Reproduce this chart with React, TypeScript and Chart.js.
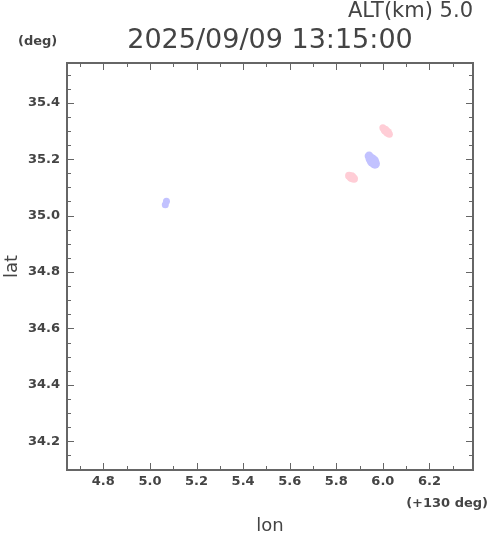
import React, { useEffect, useRef } from "react";
import { Chart, registerables } from "chart.js";

Chart.register(...registerables);

const titleText = "2025/09/09 13:15:00";
const altText = "ALT(km) 5.0";
const unitText = "(deg)";
const lonOffsetText = "(+130 deg)";
const xLabel = "lon";
const yLabel = "lat";

const xRange = [4.644, 6.387];
const yRange = [34.098, 35.541];
const xTicks = [4.8, 5.0, 5.2, 5.4, 5.6, 5.8, 6.0, 6.2];
const yTicks = [34.2, 34.4, 34.6, 34.8, 35.0, 35.2, 35.4];
const xMinorStep = 0.1;
const yMinorStep = 0.05;

// echo patches (lon offset, lat)
const bluePoints = [
  { x: 5.941, y: 35.211 },
  { x: 5.950, y: 35.200 },
  { x: 5.958, y: 35.193 },
  { x: 5.966, y: 35.184 },
  { x: 5.071, y: 35.051 },
  { x: 5.066, y: 35.038 },
];
const blueRadius = [4.5, 5.5, 6, 5, 3.5, 3.5];

const redPoints = [
  { x: 6.000, y: 35.311 },
  { x: 6.010, y: 35.303 },
  { x: 6.020, y: 35.295 },
  { x: 6.028, y: 35.288 },
  { x: 5.855, y: 35.141 },
  { x: 5.866, y: 35.136 },
  { x: 5.876, y: 35.131 },
];
const redRadius = [3.5, 4.5, 4.5, 3.5, 4, 5, 4];

const TXT = "#444444";
const FRAME = "#666666";

const decorPlugin = {
  id: "decor",
  afterDraw(chart: any) {
    const ctx = chart.ctx;
    const a = chart.chartArea;
    const xs = chart.scales.x;
    const ys = chart.scales.y;
    ctx.save();
    ctx.strokeStyle = FRAME;
    ctx.lineWidth = 2;
    ctx.strokeRect(a.left, a.top, a.right - a.left, a.bottom - a.top);
    ctx.lineWidth = 1;
    const drawX = (v: number, len: number) => {
      const px = Math.round(xs.getPixelForValue(v)) + 0.5;
      ctx.beginPath();
      ctx.moveTo(px, a.bottom);
      ctx.lineTo(px, a.bottom - len);
      ctx.moveTo(px, a.top);
      ctx.lineTo(px, a.top + len);
      ctx.stroke();
    };
    const drawY = (v: number, len: number) => {
      const py = Math.round(ys.getPixelForValue(v)) + 0.5;
      ctx.beginPath();
      ctx.moveTo(a.left, py);
      ctx.lineTo(a.left + len, py);
      ctx.moveTo(a.right, py);
      ctx.lineTo(a.right - len, py);
      ctx.stroke();
    };
    const x0 = Math.ceil(xRange[0] / xMinorStep);
    const x1 = Math.floor(xRange[1] / xMinorStep);
    for (let i = x0; i <= x1; i++) {
      const v = i * xMinorStep;
      const major = xTicks.some((t) => Math.abs(t - v) < 1e-6);
      drawX(v, major ? 7 : 4);
    }
    const y0 = Math.ceil(yRange[0] / yMinorStep);
    const y1 = Math.floor(yRange[1] / yMinorStep);
    for (let i = y0; i <= y1; i++) {
      const v = i * yMinorStep;
      const major = yTicks.some((t) => Math.abs(t - v) < 1e-6);
      drawY(v, major ? 7 : 4);
    }
    ctx.fillStyle = TXT;
    ctx.textBaseline = "alphabetic";
    const cx = (a.left + a.right) / 2;
    const cy = (a.top + a.bottom) / 2;
    ctx.font = "27px 'DejaVu Sans'";
    ctx.textAlign = "center";
    ctx.fillText(titleText, cx, 48);
    ctx.font = "21px 'DejaVu Sans'";
    ctx.textAlign = "right";
    ctx.fillText(altText, 473, 17);
    ctx.font = "bold 13px 'DejaVu Sans'";
    ctx.textAlign = "left";
    ctx.fillText(unitText, 18, 45);
    ctx.textAlign = "right";
    ctx.fillText(lonOffsetText, 488, 507);
    ctx.font = "18px 'DejaVu Sans'";
    ctx.textAlign = "center";
    ctx.fillText(xLabel, cx, 531);
    ctx.translate(17, cy);
    ctx.rotate(-Math.PI / 2);
    ctx.fillText(yLabel, 0, 0);
    ctx.restore();
  },
};

export default function App() {
  const ref = useRef<HTMLCanvasElement | null>(null);
  useEffect(() => {
    document.body.style.margin = "0";
    if (!ref.current) return;
    const chart = new Chart(ref.current, {
      type: "scatter",
      data: {
        datasets: [
          {
            data: redPoints,
            backgroundColor: "#ffcdd6",
            borderWidth: 0,
            pointRadius: redRadius,
          },
          {
            data: bluePoints,
            backgroundColor: "#c2c2ff",
            borderWidth: 0,
            pointRadius: blueRadius,
          },
        ],
      },
      options: {
        animation: false,
        responsive: false,
        events: [],
        layout: { padding: { top: 63, right: 17, left: 0, bottom: 0 } },
        plugins: { legend: { display: false }, tooltip: { enabled: false } },
        scales: {
          x: {
            type: "linear",
            min: xRange[0],
            max: xRange[1],
            grid: { display: false, drawTicks: false },
            border: { display: false },
            afterBuildTicks: (s: any) => {
              s.ticks = xTicks.map((v) => ({ value: v }));
            },
            afterFit: (s: any) => {
              s.height = 63;
            },
            ticks: {
              padding: 4,
              color: TXT,
              font: { family: "'DejaVu Sans'", size: 13, weight: "bold" },
              maxRotation: 0,
              autoSkip: false,
              callback: (v: any) => Number(v).toFixed(1),
            },
          },
          y: {
            type: "linear",
            min: yRange[0],
            max: yRange[1],
            grid: { display: false, drawTicks: false },
            border: { display: false },
            afterBuildTicks: (s: any) => {
              s.ticks = yTicks.map((v) => ({ value: v }));
            },
            afterFit: (s: any) => {
              s.width = 67;
            },
            ticks: {
              padding: 7,
              color: TXT,
              font: { family: "'DejaVu Sans'", size: 13, weight: "bold" },
              autoSkip: false,
              callback: (v: any) => Number(v).toFixed(1),
            },
          },
        },
      },
      plugins: [decorPlugin],
    });
    return () => chart.destroy();
  }, []);
  return (
    <div style={{ width: 490, height: 533 }}>
      <canvas ref={ref} width={490} height={533} style={{ display: "block" }} />
    </div>
  );
}
